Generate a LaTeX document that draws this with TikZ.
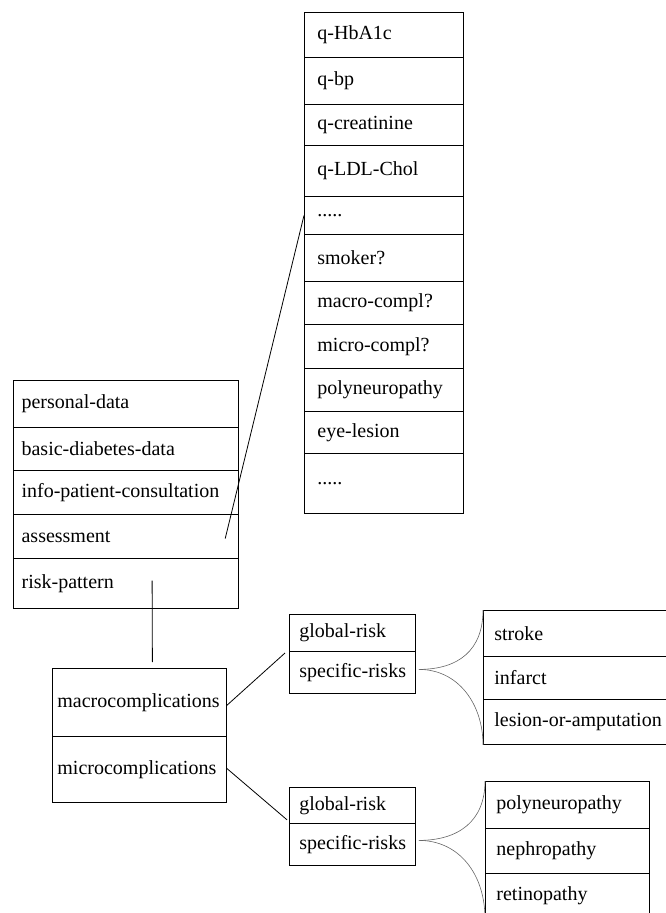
\documentclass[tikz,border=0pt]{standalone}
\usepackage{fontspec}
\setmainfont{Liberation Serif}
\usetikzlibrary{calc}
\newcommand{\cellfont}{\fontsize{20}{22}\selectfont}

\begin{document}
\begin{tikzpicture}[
  x=1pt, y=-1pt,
  cell/.style={draw, line width=0.8pt, anchor=north west, inner ysep=0pt,
               align=left, font=\cellfont,
               execute at begin node={\exhyphenpenalty=10000\hyphenpenalty=10000}},
  qcol/.style={cell, inner xsep=13pt, text width=133pt},
  pcol/.style={cell, line width=1.2pt, inner xsep=8pt, text width=209pt},
  mcol/.style={cell, inner xsep=5pt, text width=164pt},
  rcol/.style={cell, inner xsep=10pt, text width=106pt},
  scol/.style={cell, inner xsep=11pt, text width=180pt},
  ncol/.style={cell, inner xsep=11pt, text width=142pt},
  link/.style={line width=0.8pt},
  fork/.style={line width=0.6pt, black!60}
]
  \useasboundingbox (0,0) rectangle (666,913);
  \clip (0,0) rectangle (666,913);

  % questionnaire items
  \node[qcol, minimum height=45pt] (hba) at (304,12) {q-HbA1c};
  \node[qcol, minimum height=47pt] (bp) at (304,57) {q-bp};
  \node[qcol, minimum height=41pt] (crea) at (304,104) {q-creatinine};
  \node[qcol, minimum height=51pt] (ldl) at (304,145) {q-LDL-Chol};
  \node[qcol, minimum height=38pt] (dotsa) at (304,196) {.....};
  \node[qcol, minimum height=47pt] (smoker) at (304,234) {smoker?};
  \node[qcol, minimum height=43pt] (macq) at (304,281) {macro-compl?};
  \node[qcol, minimum height=44pt] (micq) at (304,324) {micro-compl?};
  \node[qcol, minimum height=43pt] (polyq) at (304,368) {polyneuropathy};
  \node[qcol, minimum height=42pt] (eye) at (304,411) {eye-lesion};
  \node[qcol, minimum height=60pt] (dotsb) at (304,453) {.....};

  % patient record
  \node[pcol, minimum height=47pt] (pers) at (13,380) {personal-data};
  \node[pcol, minimum height=43pt] (basic) at (13,427) {basic-diabetes-data};
  \node[pcol, minimum height=44pt] (info) at (13,470) {info-patient-consultation};
  \node[pcol, minimum height=44pt] (assess) at (13,514) {assessment};
  \node[pcol, minimum height=50pt] (risk) at (13,558) {risk-pattern};

  % complications
  \node[mcol, minimum height=68pt] (macro) at (52,668) {macrocomplications};
  \node[mcol, minimum height=66pt] (micro) at (52,736) {microcomplications};

  \node[rcol, minimum height=37pt] (glob1) at (289,614) {global-risk};
  \node[rcol, minimum height=42pt] (spec1) at (289,651) {specific-risks};
  \node[rcol, minimum height=36pt] (glob2) at (289,787) {global-risk};
  \node[rcol, minimum height=42pt] (spec2) at (289,823) {specific-risks};

  \node[scol, minimum height=46pt] (stroke) at (483,610) {stroke};
  \node[scol, minimum height=43pt] (infarct) at (483,656) {infarct};
  \node[scol, minimum height=45pt] (lesion) at (483,699) {lesion-or-amputation};

  \node[ncol, minimum height=47pt] (polyb) at (485,781) {polyneuropathy};
  \node[ncol, minimum height=45pt] (nephro) at (485,828) {nephropathy};
  \node[ncol, minimum height=45pt] (retino) at (485,873) {retinopathy};

  % connectors
  \draw[link] ($(assess.east)+(-14,2)$) -- (dotsa.west);
  \draw[link] ($(risk.center)+(26,-3)$) -- ($(macro.north)+(13,-6)$);
  \draw[link] ($(macro.east)+(0,3)$) -- ($(spec1.north west)+(-4,2)$);
  \draw[link] ($(micro.east)+(0,-1)$) -- ($(glob2.south west)+(-2,-4)$);

  \coordinate (fork1) at ($(spec1.east)+(3,-3)$);
  \coordinate (fork2) at ($(spec2.east)+(3,-4)$);
  \draw[fork] (fork1) .. controls +(40,0) and +(0,40) .. (stroke.north west);
  \draw[fork] (fork1) .. controls +(40,0) and +(0,-40) .. (lesion.south west);
  \draw[fork] (fork2) .. controls +(40,0) and +(0,40) .. (polyb.north west);
  \draw[fork] (fork2) .. controls +(40,0) and +(0,-45) .. (retino.south west);
\end{tikzpicture}
\end{document}
